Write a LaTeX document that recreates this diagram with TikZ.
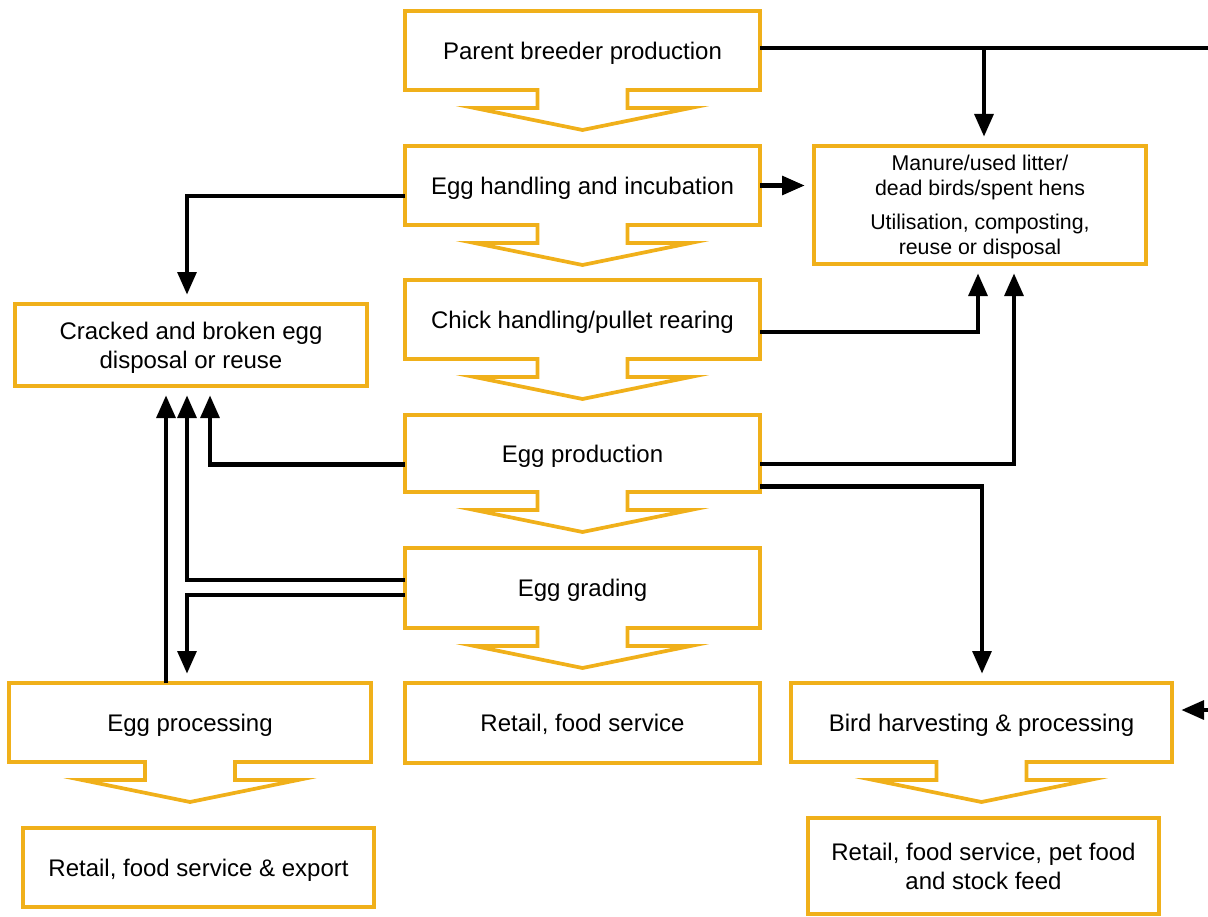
\documentclass[tikz,border=0pt]{standalone}
\usepackage{fontspec}
\setmainfont{Liberation Sans}
\usetikzlibrary{arrows.meta,calc}
\definecolor{gold}{RGB}{240,176,26}
\newcommand\calloutpath[1]{%
  \draw[outl] (#1.north west) -- (#1.north east) -- (#1.south east)
    -- ($(#1.south)+(45,0)$) -- ++(0,18) -- ++(63,0)
    -- ($(#1.south)+(0,40)$) -- ($(#1.south)+(-108,18)$)
    -- ++(63,0) -- ++(0,-18) -- (#1.south west) -- cycle;}
\begin{document}
\begin{tikzpicture}[x=0.75pt,y=-0.75pt,
  bx/.style 2 args={minimum width=#1*0.75pt, minimum height=#2*0.75pt,
    inner sep=0pt, outer sep=0pt, align=center, text depth=0pt,
    font=\fontsize{18}{21.75}\selectfont},
  outl/.style={draw=gold, line width=2.8pt, line join=miter},
  plain/.style={draw=gold, line width=2.8pt},
  conn/.style={line width=3.1pt},
  arr/.style={line width=3.1pt, -{Triangle[length=17pt,width=14pt]}, shorten >=7pt}]
\useasboundingbox (0,0) rectangle (1208,917);

% column nodes
\node[bx={355}{79}] (pb) at (582.5,50.5) {Parent breeder production};
\node[bx={355}{79}] (eh) at (582.5,185.5) {Egg handling and incubation};
\node[bx={355}{79}] (ch) at (582.5,319.5) {Chick handling/pullet rearing};
\node[bx={355}{77}] (ep) at (582.5,453.5) {Egg production};
\node[bx={355}{80}] (eg) at (582.5,588) {Egg grading};
\node[bx={355}{80},plain] (rf) at (582.5,723) {Retail, food service};
\node[bx={352}{82},plain] (cb) at (191,345) {Cracked and broken egg\\disposal or reuse};
\node[bx={332}{118},plain,font=\fontsize{16}{18.75}\selectfont] (mn) at (980,205)
  {Manure/used litter/\\dead birds/spent hens\\[6.75pt]Utilisation, composting,\\reuse or disposal};
\node[bx={362}{79}] (epr) at (190,722.5) {Egg processing};
\node[bx={351}{79},plain] (re) at (198.5,867.5) {Retail, food service \& export};
\node[bx={381}{79}] (bh) at (981.5,722.5) {Bird harvesting \& processing};
\node[bx={351}{96},plain] (rp) at (983.5,866) {Retail, food service, pet food\\and stock feed};

\calloutpath{pb}
\calloutpath{eh}
\calloutpath{ch}
\calloutpath{ep}
\calloutpath{eg}
\calloutpath{epr}
\calloutpath{bh}

% connectors
\coordinate (r1) at (1212,48);
\coordinate (j1) at (984,48);
\coordinate (r2) at (1212,710);
\draw[conn] ($(pb.east)+(0,-2.5)$) -- (r1);
\draw[arr] (j1) -- (j1 |- mn.north);
\draw[arr] (eh.east) -- (eh.east -| mn.west);
\draw[arr] ($(eh.west)+(0,10.5)$) -| ($(cb.north)+(-4,0)$);
\draw[arr] ($(ch.east)+(0,12.5)$) -| ($(mn.south)+(-2,0)$);
\draw[arr] ($(ep.east)+(0,10.5)$) -| ($(mn.south)+(34,0)$);
\draw[arr] ($(ep.east)+(0,33)$) -| ($(bh.north)+(0.5,0)$);
\draw[arr] ($(ep.west)+(0,11)$) -| ($(cb.south)+(19,0)$);
\draw[arr] ($(eg.west)+(0,-8)$) -| ($(cb.south)+(-4,0)$);
\draw[arr] ($(eg.west)+(0,7)$) -| ($(epr.north)+(-3,0)$);
\draw[arr] ($(epr.north)+(-24,0)$) -- ($(cb.south)+(-25,0)$);
\draw[arr] (r2) -- (r2 -| bh.east);
\end{tikzpicture}
\end{document}
